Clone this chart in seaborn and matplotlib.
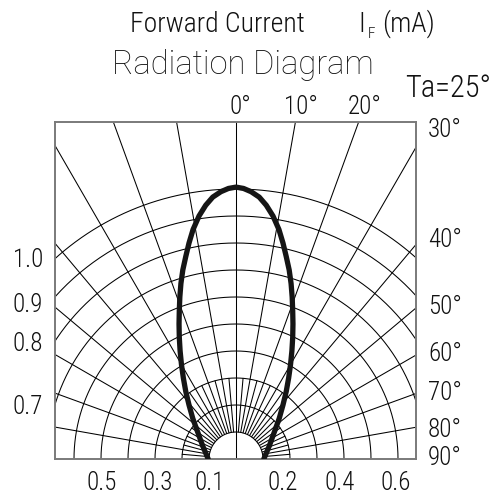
import numpy as np
import pandas as pd
import matplotlib
matplotlib.use("Agg")
import matplotlib.pyplot as plt
import seaborn as sns

# === Chart values ===
# grid: concentric rings (ring units) and radial lines (degrees from the axis)
ring_radii = [1, 2, 3, 4, 5, 6, 7, 8, 9, 10]
major_angles = [-80, -70, -60, -50, -40, -30, -20, -10, 0, 10, 20, 30, 40, 50, 60, 70, 80]
minor_angles = [-85, -75, -65, -55, -45, -35, -25, -15, -5, 5, 15, 25, 35, 45, 55, 65, 75, 85]

# radiation pattern: height above the LED and half width of the lobe (ring units)
curve_height = [0.0, 0.5, 1.0, 1.5, 2.0, 2.5, 3.0, 3.5, 4.0, 4.5, 5.0, 5.5, 6.0,
                6.5, 7.0, 7.5, 8.0, 8.5, 9.0, 9.4, 9.7, 9.9, 10.02, 10.07]
curve_half = [1.03, 1.24, 1.42, 1.60, 1.74, 1.86, 1.95, 2.02, 2.07, 2.10, 2.11, 2.10, 2.08,
              2.04, 1.97, 1.86, 1.74, 1.59, 1.37, 1.12, 0.86, 0.56, 0.28, 0.0]

# labels around the box
bottom_labels = ["0.5", "0.3", "0.1", "0.2", "0.4", "0.6"]
left_labels = ["1.0", "0.9", "0.8", "0.7"]
right_labels = ["30°", "40°", "50°", "60°", "70°", "80°", "90°"]
top_labels = ["0°", "10°", "20°"]

# === Figure setup ===
sns.set_style("white")
plt.rcParams["font.family"] = ["Roboto Condensed", "Roboto", "DejaVu Sans"]

W, H = 502, 498
fig = plt.figure(figsize=(W / 100, H / 100), dpi=100)
unit = 27.0  # pixels per ring
ox, oy = 236, 459  # LED position in pixels
box_l, box_r, box_t = 55, 416, 122
ax = fig.add_axes([box_l / W, 1 - oy / H, (box_r - box_l) / W, (oy - box_t) / H])
ax.set_xlim((box_l - ox) / unit, (box_r - ox) / unit)
ax.set_ylim(0, (oy - box_t) / unit)
ax.set_xticks([])
ax.set_yticks([])
for s in ax.spines.values():
    s.set_color("#7a7a7a")
    s.set_linewidth(1.4)

# concentric semicircles
t = np.linspace(0, np.pi, 361)
for r in ring_radii:
    ax.plot(r * np.cos(t), r * np.sin(t), color="black", lw=0.75, zorder=1)

# radial lines: 10 deg ones run to the box, 5 deg ones stay near the centre
for a in major_angles:
    start = 0 if a == 0 else ring_radii[0]
    rad = np.deg2rad(a)
    ax.plot([start * np.sin(rad), 20 * np.sin(rad)],
            [start * np.cos(rad), 20 * np.cos(rad)], color="black", lw=0.75, zorder=1)
for a in minor_angles:
    rad = np.deg2rad(a)
    end = ring_radii[2] if abs(a) < 45 else ring_radii[1]
    ax.plot([ring_radii[0] * np.sin(rad), end * np.sin(rad)],
            [ring_radii[0] * np.cos(rad), end * np.cos(rad)],
            color="black", lw=0.75, zorder=1)

# radiation lobe: up the right side, down the left side
lobe = pd.DataFrame({
    "x": curve_half + [-h for h in curve_half[::-1]],
    "y": curve_height + curve_height[::-1],
})
sns.lineplot(data=lobe, x="x", y="y", sort=False, estimator=None,
             color="#151515", lw=3.8, ax=ax, zorder=3)
ax.set_xlabel("")
ax.set_ylabel("")


def px(x, y):
    return x / W, 1 - y / H


ink = "#111111"
lab = dict(fontsize=18, color=ink, fontweight="light")
for txt, x in zip(bottom_labels, [102, 158, 210, 283, 340, 396]):
    fig.text(*px(x, 483), txt, ha="center", va="center", **lab)
for txt, y in zip(left_labels, [260, 305, 344, 407]):
    fig.text(*px(28, y), txt, ha="center", va="center", **lab)
for txt, y in zip(right_labels, [130, 240, 307, 354, 393, 430, 458]):
    fig.text(*px(428, y), txt, ha="left", va="center", **lab)
for txt, x in zip(top_labels, [240, 301, 365]):
    fig.text(*px(x, 107), txt, ha="center", va="center", **lab)

# titles
fig.text(*px(243, 74), "Radiation Diagram", ha="center", va="baseline",
         fontsize=23.5, color=ink, fontweight="light", family=["Roboto", "DejaVu Sans"])
fig.text(*px(130, 32), "Forward Current", ha="left", va="baseline",
         fontsize=20, color=ink, fontweight="light")
fig.text(*px(358, 32), "I", ha="left", va="baseline", fontsize=20, color=ink, fontweight="light")
fig.text(*px(368, 38), "F", ha="left", va="baseline", fontsize=11, color=ink, fontweight="light")
fig.text(*px(382, 32), "(mA)", ha="left", va="baseline", fontsize=20, color=ink, fontweight="light")
fig.text(*px(405, 97), "Ta=25°", ha="left", va="baseline", fontsize=22, color=ink, fontweight="light")

fig.savefig("out.png", dpi=100)
